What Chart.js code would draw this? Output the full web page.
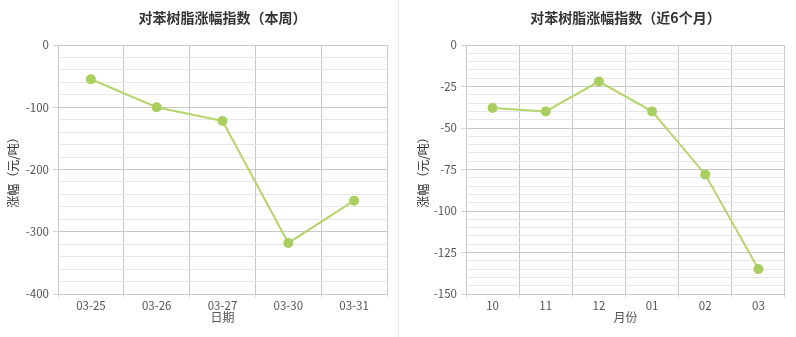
<!DOCTYPE html>
<html>
<head>
<meta charset="utf-8">
<script src="https://cdn.jsdelivr.net/npm/chart.js@4/dist/chart.umd.min.js"></script>
<style>
  html, body { margin: 0; padding: 0; background: #fff; }
  #wrap { position: relative; width: 796px; height: 337px; overflow: hidden; }
  .pane { position: absolute; top: 0; height: 337px; }
  #p1 { left: 0; width: 398px; }
  #p2 { left: 399px; width: 397px; }
  #sep { position: absolute; left: 398px; top: 0; width: 1px; height: 337px; background: #ececec; }
</style>
</head>
<body>
<div id="wrap">
  <div class="pane" id="p1"><canvas id="c1"></canvas></div>
  <div id="sep"></div>
  <div class="pane" id="p2"><canvas id="c2"></canvas></div>
</div>
<script>
// Weekly index
const weekTitle = '对苯树脂涨幅指数（本周）';
const weekDays = ['03-25', '03-26', '03-27', '03-30', '03-31'];
const weekValues = [-55, -100, -122, -318, -250];
const weekAxisX = '日期';
const weekMin = -400, weekMax = 0, weekMajor = 100, weekMinor = 20;

// Six-month index
const monthTitle = '对苯树脂涨幅指数（近6个月）';
const monthLabels = ['10', '11', '12', '01', '02', '03'];
const monthValues = [-38, -40, -22, -40, -78, -135];
const monthAxisX = '月份';
const monthMin = -150, monthMax = 0, monthMajor = 25, monthMinor = 5;

const axisY = '涨幅（元/吨）';

const FONT = '"Noto Sans CJK SC", "Noto Sans", sans-serif';
const LINE = '#b6d56e';
const DOT = '#a9cf5f';
const MAJOR = '#c9c9c9';
const MINOR = '#e6e6e6';

function isMajor(v, major) {
  return Math.abs(Math.round(v / major) * major - v) < 1e-6;
}

// Title centred over the plot area rather than the whole canvas
const plotTitle = {
  id: 'plotTitle',
  afterDraw(chart, args, o) {
    const { ctx, chartArea } = chart;
    ctx.save();
    ctx.font = 'bold 14px ' + FONT;
    ctx.fillStyle = '#333';
    ctx.textAlign = 'center';
    ctx.textBaseline = 'middle';
    ctx.fillText(o.text, (chartArea.left + chartArea.right) / 2, o.y);
    ctx.restore();
  }
};

function makeChart(id, opts) {
  const ctx = document.getElementById(id);
  return new Chart(ctx, {
    type: 'line',
    data: {
      labels: opts.labels,
      datasets: [{
        data: opts.values,
        borderColor: LINE,
        backgroundColor: DOT,
        pointBackgroundColor: DOT,
        pointBorderColor: DOT,
        pointRadius: 4,
        borderWidth: 2,
        tension: 0,
        fill: false
      }]
    },
    plugins: [plotTitle],
    options: {
      responsive: true,
      maintainAspectRatio: false,
      animation: false,
      layout: { padding: { left: opts.padLeft, right: 11, top: 45, bottom: 12 } },
      plugins: {
        legend: { display: false },
        tooltip: { enabled: false },
        title: { display: false },
        plotTitle: { text: opts.title, y: 18 }
      },
      scales: {
        x: {
          type: 'category',
          offset: true,
          grid: {
            offset: true,
            color: MAJOR,
            tickColor: '#e2e2e2',
            tickLength: 4,
            drawTicks: true
          },
          border: { display: true, color: MAJOR },
          ticks: {
            color: '#555',
            font: { family: FONT, size: 11.5 },
            padding: 1,
            autoSkip: false,
            maxRotation: 0
          },
          title: {
            display: true,
            text: opts.axisX,
            color: '#555',
            font: { family: FONT, size: 12 },
            padding: { top: 0, bottom: 0 }
          },
          afterFit(scale) { scale.height = 31; }
        },
        y: {
          min: opts.min,
          max: opts.max,
          grid: {
            color: c => isMajor(c.tick.value, opts.major) ? MAJOR : MINOR,
            tickColor: c => isMajor(c.tick.value, opts.major) ? '#d6d6d6' : 'rgba(0,0,0,0)',
            tickLength: 5,
            drawTicks: true
          },
          border: { display: true, color: MAJOR },
          ticks: {
            stepSize: opts.minor,
            autoSkip: false,
            color: '#555',
            font: { family: FONT, size: 11.5 },
            padding: 4,
            callback: v => isMajor(v, opts.major) ? String(v) : ''
          },
          title: {
            display: true,
            text: axisY,
            color: '#333',
            font: { family: FONT, size: 12 },
            padding: { top: 0, bottom: 0 }
          },
          afterFit(scale) { scale.width = opts.axisWidth; }
        }
      }
    }
  });
}

makeChart('c1', {
  title: weekTitle, labels: weekDays, values: weekValues, axisX: weekAxisX,
  min: weekMin, max: weekMax, major: weekMajor, minor: weekMinor,
  padLeft: 6, axisWidth: 52
});

makeChart('c2', {
  title: monthTitle, labels: monthLabels, values: monthValues, axisX: monthAxisX,
  min: monthMin, max: monthMax, major: monthMajor, minor: monthMinor,
  padLeft: 17, axisWidth: 50
});
</script>
</body>
</html>
